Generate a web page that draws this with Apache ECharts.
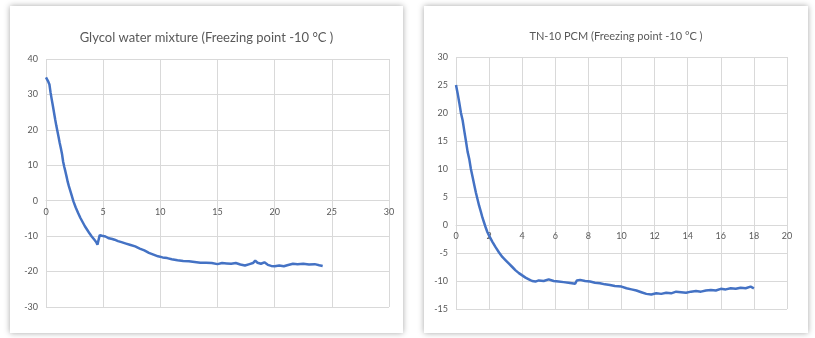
<!DOCTYPE html>
<html>
<head>
<meta charset="utf-8">
<script src="https://cdn.jsdelivr.net/npm/echarts@6/dist/echarts.min.js"></script>
<style>
  html, body { margin: 0; padding: 0; background: #fff; }
  body { width: 815px; height: 338px; position: relative; overflow: hidden; }
  .card { position: absolute; background: #fff; box-shadow: 0 0 6px rgba(0,0,0,0.35); }
  .chart { width: 100%; height: 100%; }
</style>
</head>
<body>
<div class="card" style="left:10px;top:6px;width:393px;height:327px"><div id="left" class="chart"></div></div>
<div class="card" style="left:424px;top:6px;width:384px;height:327px"><div id="right" class="chart"></div></div>
<script>
// glycol water mixture: time vs temperature
const glycolTime = [0, 0.1, 0.2, 0.3, 0.4, 0.5, 0.6, 0.7, 0.8, 0.9, 1.0, 1.1, 1.2, 1.3, 1.4, 1.5, 1.6, 1.7, 1.8, 1.9, 2.0, 2.2, 2.4, 2.6, 2.8, 3.0, 3.2, 3.4, 3.6, 3.8, 4.0, 4.2, 4.4, 4.5, 4.55, 4.7, 4.9, 5.2, 5.5, 5.8, 6.0, 6.3, 6.6, 7.0, 7.4, 7.8, 8.2, 8.6, 9.0, 9.4, 9.8, 10.2, 10.6, 11.0, 11.5, 12.0, 12.5, 13.0, 13.5, 14.0, 14.5, 15.0, 15.4, 15.8, 16.2, 16.6, 17.0, 17.4, 17.8, 18.1, 18.3, 18.5, 18.8, 19.1, 19.4, 19.7, 20.0, 20.4, 20.8, 21.1, 21.2, 21.6, 22.0, 22.5, 23.0, 23.5, 23.9, 24.2]
const glycolTemp = [34.8, 34.3, 33.6, 32.8, 30.5, 28.6, 26.8, 24.9, 23.0, 21.2, 19.6, 18.0, 16.3, 14.8, 13.2, 11.0, 9.5, 8.2, 6.8, 5.3, 4.1, 2.0, -0.2, -1.9, -3.4, -4.8, -6.0, -7.2, -8.2, -9.2, -10.1, -10.9, -11.7, -12.4, -12.6, -9.7, -9.9, -10.1, -10.6, -10.8, -11.0, -11.4, -11.7, -12.1, -12.5, -12.9, -13.5, -14.0, -14.7, -15.2, -15.7, -16.0, -16.2, -16.5, -16.8, -17.0, -17.1, -17.3, -17.5, -17.5, -17.6, -17.9, -17.6, -17.7, -17.8, -17.6, -18.0, -18.3, -17.9, -17.6, -16.9, -17.5, -17.8, -17.4, -18.1, -18.4, -18.5, -18.3, -18.5, -18.2, -17.7, -17.8, -17.9, -17.8, -18.0, -17.9, -18.2, -18.4]

// TN-10 PCM: time vs temperature
const pcmTime = [0, 0.1, 0.2, 0.3, 0.4, 0.5, 0.6, 0.7, 0.8, 0.9, 1.0, 1.1, 1.2, 1.3, 1.4, 1.5, 1.6, 1.7, 1.8, 1.9, 2.0, 2.2, 2.4, 2.6, 2.8, 3.0, 3.2, 3.4, 3.6, 3.8, 4.0, 4.2, 4.4, 4.6, 4.8, 5.0, 5.3, 5.6, 5.9, 6.2, 6.5, 6.8, 7.0, 7.2, 7.3, 7.5, 7.8, 8.1, 8.4, 8.7, 9.0, 9.3, 9.6, 10.0, 10.3, 10.6, 10.9, 11.2, 11.5, 11.8, 12.1, 12.4, 12.7, 13.0, 13.3, 13.6, 13.9, 14.2, 14.5, 14.8, 15.1, 15.4, 15.7, 16.0, 16.3, 16.6, 16.9, 17.2, 17.5, 17.8, 18.0]
const pcmTemp = [25.0, 23.5, 21.8, 20.0, 18.7, 16.8, 15.0, 13.1, 11.8, 10.0, 8.6, 7.2, 5.8, 4.6, 3.4, 2.4, 1.3, 0.4, -0.5, -1.3, -1.9, -3.0, -4.0, -4.9, -5.7, -6.3, -6.9, -7.5, -8.1, -8.6, -9.0, -9.4, -9.7, -10.0, -10.1, -9.9, -10.0, -9.7, -10.0, -10.1, -10.2, -10.3, -10.4, -10.5, -9.9, -9.8, -10.0, -10.1, -10.3, -10.4, -10.6, -10.7, -10.9, -11.0, -11.3, -11.5, -11.7, -12.0, -12.3, -12.4, -12.2, -12.3, -12.1, -12.2, -11.9, -12.0, -12.1, -11.9, -11.8, -11.9, -11.7, -11.6, -11.7, -11.4, -11.5, -11.3, -11.4, -11.2, -11.3, -11.0, -11.3]

const glycolTitle = 'Glycol water mixture (Freezing point -10 °C )'
const pcmTitle = 'TN-10 PCM (Freezing point -10 °C )'

const FONT = 'Lato, "Open Sans", sans-serif'
const GRID_COLOR = '#d9d9d9'
const TEXT_COLOR = '#595959'

function zip(xs, ys) {
	return xs.map((x, i) => [x, ys[i]])
}

function makeOption(cfg) {
	// x axis sits on the 0 line of the y axis, so push it up from the bottom edge
	const plotH = cfg.height - cfg.grid.top - cfg.grid.bottom
	const zeroOffset = plotH * (0 - cfg.yMin) / (cfg.yMax - cfg.yMin)
	return {
		animation: false,
		title: {
			text: cfg.title,
			left: 'center',
			top: 20,
			textStyle: { fontFamily: FONT, fontSize: cfg.titleSize, fontWeight: 'normal', color: TEXT_COLOR }
		},
		grid: cfg.grid,
		xAxis: {
			type: 'value',
			min: 0,
			max: cfg.xMax,
			interval: cfg.xStep,
			offset: -zeroOffset,
			axisLine: { show: true, onZero: false, lineStyle: { color: GRID_COLOR } },
			axisTick: { show: false },
			axisLabel: { color: TEXT_COLOR, fontFamily: FONT, fontSize: 9, margin: 7 },
			splitLine: { show: true, lineStyle: { color: GRID_COLOR } }
		},
		yAxis: {
			type: 'value',
			min: cfg.yMin,
			max: cfg.yMax,
			interval: cfg.yStep,
			axisLine: { show: false },
			axisTick: { show: false },
			axisLabel: { color: TEXT_COLOR, fontFamily: FONT, fontSize: 9, margin: 8 },
			splitLine: { show: true, lineStyle: { color: GRID_COLOR } }
		},
		series: [{
			type: 'line',
			data: cfg.data,
			showSymbol: false,
			lineStyle: { color: '#4472c4', width: 2.5 }
		}]
	}
}

const leftChart = echarts.init(document.getElementById('left'))
leftChart.setOption(makeOption({
	title: glycolTitle,
	titleSize: 13,
	height: 327,
	grid: { left: 36, right: 14, top: 53, bottom: 26 },
	xMax: 30, xStep: 5,
	yMin: -30, yMax: 40, yStep: 10,
	data: zip(glycolTime, glycolTemp)
}))

const rightChart = echarts.init(document.getElementById('right'))
rightChart.setOption(makeOption({
	title: pcmTitle,
	titleSize: 11,
	height: 327,
	grid: { left: 32, right: 21, top: 51, bottom: 24 },
	xMax: 20, xStep: 2,
	yMin: -15, yMax: 30, yStep: 5,
	data: zip(pcmTime, pcmTemp)
}))
</script>
</body>
</html>
